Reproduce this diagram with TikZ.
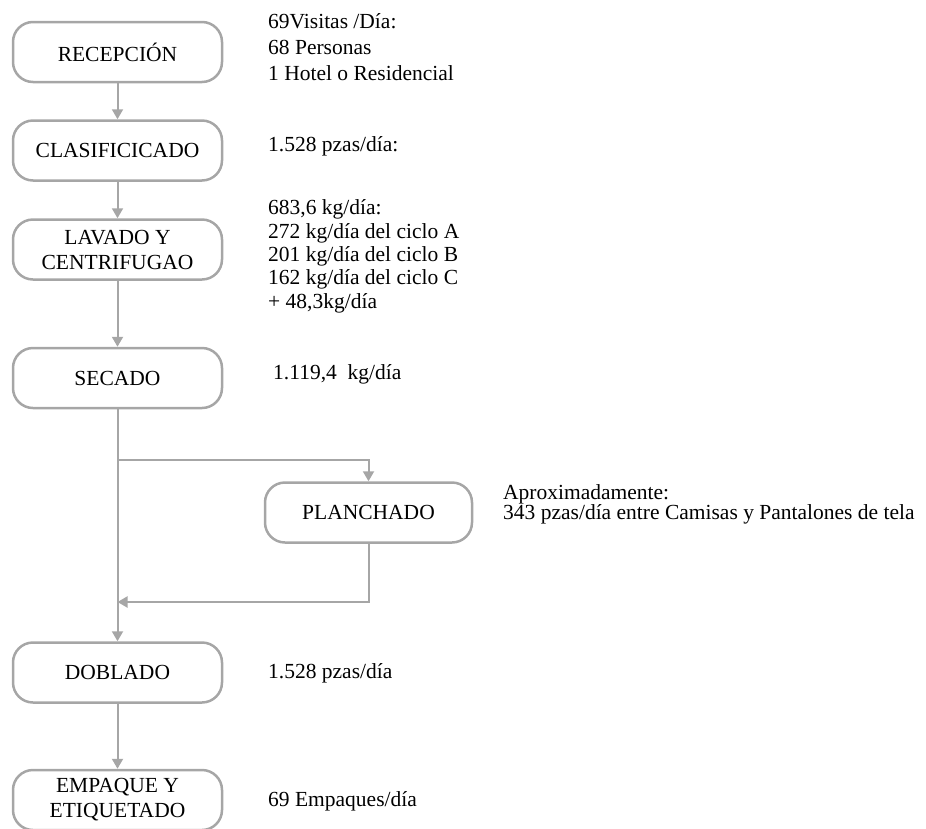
\documentclass[tikz,border=0pt]{standalone}
\usepackage{fontspec}
\setmainfont{Liberation Serif}
\usetikzlibrary{arrows.meta}
\definecolor{linegray}{RGB}{166,166,166}
\begin{document}
\begin{tikzpicture}[x=1pt,y=-1pt,
  stepbox/.style={draw=linegray, line width=2.5pt, rounded corners=20pt,
    minimum width=209pt, minimum height=60pt, align=center, inner sep=0pt,
    font=\fontsize{21.5}{25}\selectfont},
  % multi-line notes are placed by the baseline of their last line
  note/.style={anchor=base west, align=left, inner sep=0pt,
    font=\fontsize{21.5}{26}\selectfont},
  flow/.style={draw=linegray, line width=2pt,
    -{Triangle[width=11pt,length=10pt]}}
]
\useasboundingbox (0,0) rectangle (926,828);

% process steps
\node[stepbox] (rec) at (117.5,52)    {RECEPCIÓN};
\node[stepbox] (cla) at (117.5,150.5) {CLASIFICICADO};
\node[stepbox] (lav) at (117.5,249.5) {LAVADO Y\\CENTRIFUGAO};
\node[stepbox] (sec) at (117.5,378)   {SECADO};
\node[stepbox, minimum width=207pt] (pla) at (368.5,512.5) {PLANCHADO};
\node[stepbox] (dob) at (117.5,672.5) {DOBLADO};
\node[stepbox] (emp) at (117.5,800)   {EMPAQUE Y\\ETIQUETADO};

% branch points for the ironing detour
\coordinate (split) at (117.5,460);
\coordinate (merge) at (117.5,602);

% flow
\draw[flow] (rec) -- (cla);
\draw[flow] (cla) -- (lav);
\draw[flow] (lav) -- (sec);
\draw[flow] (sec) -- (dob);
\draw[flow] (split) -| (pla);
\draw[flow] (pla) |- (merge);
\draw[flow] (dob) -- (emp);

% quantities per step
\node[note] (n1) at (268,80) {69Visitas /Día:\\68 Personas\\1 Hotel o Residencial};
\node[note] (n2) at (268,151) {1.528 pzas/día:};
\node[note, font=\fontsize{21.5}{23.3}\selectfont] (n3) at (268,308)
  {683,6 kg/día:\\272 kg/día del ciclo A\\201 kg/día del ciclo B\\162 kg/día del ciclo C\\+ 48,3kg/día};
\node[note] (n4) at (273,379) {1.119,4\ \ kg/día};
\node[note, font=\fontsize{21.5}{20}\selectfont] (n5) at (503,519)
  {Aproximadamente:\\343 pzas/día entre Camisas y Pantalones de tela};
\node[note] (n6) at (268,678) {1.528 pzas/día};
\node[note] (n7) at (268,806) {69 Empaques/día};
\end{tikzpicture}
\end{document}
